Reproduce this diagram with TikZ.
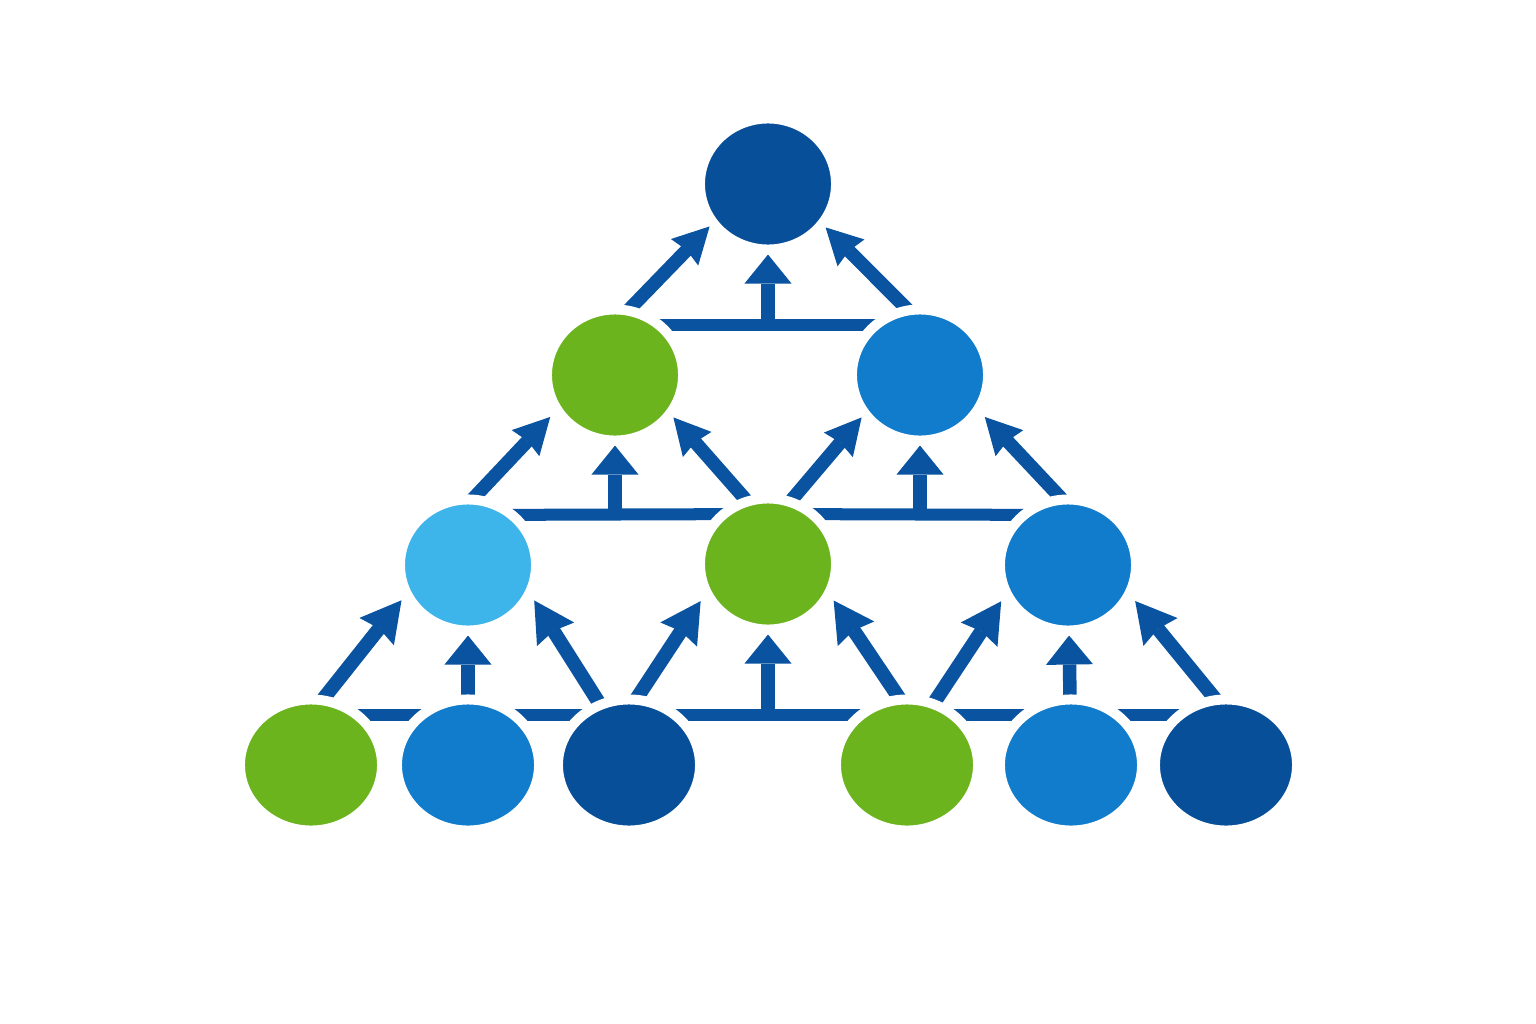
\documentclass[tikz,border=0pt]{standalone}
\usepackage{tikz}
\usetikzlibrary{arrows.meta, shapes.geometric, calc, backgrounds}
\tikzstyle{pixels} = [x = 0.01cm, y = -0.01cm]
\definecolor{arrowColor}{RGB}{10,83,160}
\definecolor{navyColor}{RGB}{8,79,154}
\definecolor{greenColor}{RGB}{107,180,30}
\definecolor{blueColor}{RGB}{16,124,203}
\definecolor{skyColor}{RGB}{62,181,234}
\tikzstyle{ballStyle} = [ellipse, draw=white, line width=0.10cm, inner sep=0pt, minimum width=1.36cm, minimum height=1.31cm]
\tikzstyle{baseBallStyle} = [ballStyle, minimum width=1.42cm]
\tikzstyle{barStyle} = [color=arrowColor, line width=0.12cm]
\tikzstyle{slantArrow} = [color=arrowColor, line width=0.135cm, shorten <=-0.12cm, -{Stealth[length=0.36cm, width=0.38cm, inset=0.03cm, line width=0pt]}]
\tikzstyle{slantArrowBig} = [color=arrowColor, line width=0.14cm, shorten <=-0.12cm, -{Stealth[length=0.40cm, width=0.44cm, inset=0.04cm, line width=0pt]}]
\tikzstyle{straightArrow} = [color=arrowColor, line width=0.135cm, -{Triangle[length=0.29cm, width=0.47cm, line width=0pt]}]
\newcommand{\ball}[4]{\node [ballStyle, fill=#4] (#1) at (#2, #3) {};}
\newcommand{\baseBall}[4]{\node [baseBallStyle, fill=#4] (#1) at (#2, #3) {};}
\newcommand{\linkBar}[2]{\draw [barStyle] ($(#1) + (0,-50)$) -- ($(#2) + (0,-50)$);}
\newcommand{\linkBarUp}[3]{
  \draw [barStyle] ($(#1) + (0,-50)$) coordinate (#1#2) -- ($(#2) + (0,-50)$);
  \draw [straightArrow] (#3 |- #1#2) -- (#3);
}

\begin{document}
\begin{tikzpicture}[pixels]
          \useasboundingbox (0,0) rectangle (1536,1024);
          \ball{top}{768}{184}{navyColor}
          \ball{g1}{615}{375}{greenColor}
          \ball{b1}{920}{375}{blueColor}
          \ball{lb}{468}{565}{skyColor}
          \ball{g2}{768}{564}{greenColor}
          \ball{b2}{1068}{565}{blueColor}
          \baseBall{g3}{311}{765}{greenColor}
          \baseBall{b3}{468}{765}{blueColor}
          \baseBall{d1}{629}{765}{navyColor}
          \baseBall{g4}{907}{765}{greenColor}
          \baseBall{b4}{1071}{765}{blueColor}
          \baseBall{d2}{1226}{765}{navyColor}

          \begin{scope}[on background layer]
            \fill [white] (0,0) rectangle (1536,1024);
            \linkBarUp{g1}{b1}{top}
            \linkBarUp{lb}{g2}{g1}
            \linkBarUp{g2}{b2}{b1}
            \linkBarUp{d1}{g4}{g2}
            \linkBar{g3}{b3}
            \linkBar{b3}{d1}
            \linkBar{g4}{b4}
            \linkBar{b4}{d2}
            \draw [straightArrow, shorten <=-0.12cm] (b3) -- (lb);
            \draw [straightArrow, shorten <=-0.12cm] (b4) -- (b2);
            \foreach \from/\fromAngle/\to/\toAngle/\gap in {g1/76/top/216/0cm, b1/103/top/323/0cm,
                lb/83/g1/212/0.05cm, g2/110/g1/324/0cm, g2/69/b1/216/0cm, b2/98/b1/328/0.05cm} {
              \draw [slantArrow, shorten >=\gap] (\from.\fromAngle) -- (\to.\toAngle);
            }
            \foreach \from/\fromAngle/\to/\toAngle/\gap in {g3/78/lb/207/0.03cm, d1/116/lb/333/0.03cm,
                d1/82/g2/207/0.05cm, g4/98/g2/332/0.03cm, g4/66/b2/207/0.04cm, d2/101/b2/333/0.04cm} {
              \draw [slantArrowBig, shorten >=\gap] (\from.\fromAngle) -- (\to.\toAngle);
            }
          \end{scope}
        \end{tikzpicture}
\end{document}
